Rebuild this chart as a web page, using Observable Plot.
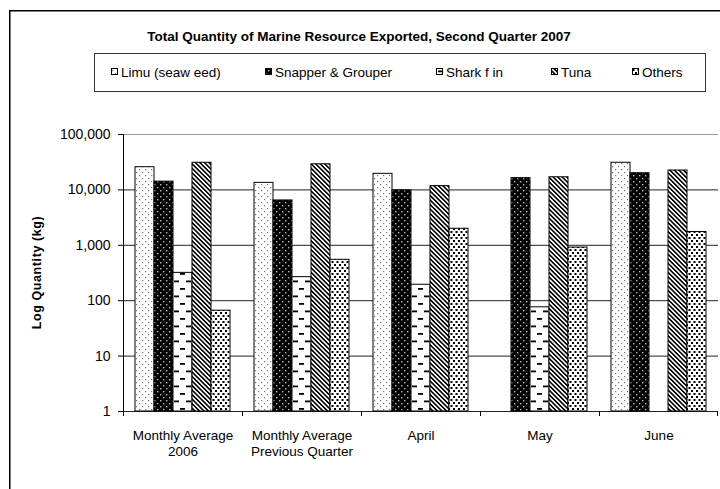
<!DOCTYPE html>
<html><head><meta charset="utf-8">
<script src="https://cdn.jsdelivr.net/npm/d3@7"></script>
<script src="https://cdn.jsdelivr.net/npm/@observablehq/plot@0.6"></script>
<style>
body{margin:0;background:#fff;}
</style></head><body><div id="chart"></div>
<script>
// ---- data ----
const categories = ["Monthly Average\n2006", "Monthly Average\nPrevious Quarter", "April", "May", "June"];
const series = ["Limu (seaw eed)", "Snapper & Grouper", "Shark f in", "Tuna", "Others"];
const limu     = [25700, 13400, 19500, null, 30900];
const snapper  = [14100, 6450, 9800, 16300, 20000];
const sharkFin = [318, 266, 194, 76, null];
const tuna     = [30900, 29000, 11700, 16900, 22400];
const others   = [66, 547, 1990, 910, 1740];
const yTicks   = [1, 10, 100, 1000, 10000, 100000];
const title = "Total Quantity of Marine Resource Exported, Second Quarter 2007";
const yLabel = "Log Quantity (kg)";

// ---- styles ----
const patternIds = ["p-limu", "p-snap", "p-shark", "p-tuna", "p-others"];
const legendX = [111, 265, 436, 551, 632];
const FONT = "'Liberation Sans', Arial, sans-serif";

const valuesBySeries = [limu, snapper, sharkFin, tuna, others];
const rows = [];
categories.forEach((c, i) => series.forEach((s, j) => {
  const v = valuesBySeries[j][i];
  if (v != null) rows.push({category: c, series: s, value: v});
}));
const fillOf = d => `url(#${patternIds[series.indexOf(d.series)]})`;

const plot = Plot.plot({
  width: 720, height: 489,
  marginTop: 134, marginLeft: 123, marginRight: 2, marginBottom: 78,
  style: {fontFamily: FONT, fontSize: "13px", background: "white", overflow: "visible", color: "#000"},
  facet: {data: rows, x: "category"},
  fx: {domain: categories, padding: 0, label: null},
  x: {domain: series, paddingInner: 0, paddingOuter: 0.63, axis: null},
  y: {type: "log", domain: [1, 1e5], label: null},
  color: {type: "identity"},
  marks: [
    Plot.ruleY(yTicks, {y: d => d, stroke: d => d === 1e5 ? "#999" : "#222", strokeWidth: 1}),
    Plot.barY(rows, {x: "series", y1: 1, y2: "value", fill: fillOf, stroke: "#000", strokeWidth: 1}),
    Plot.axisY(yTicks, {tickFormat: ",", tickSize: 5, tickPadding: 8, fontSize: 14, label: null}),
    Plot.axisFx({anchor: "bottom", tickSize: 0, tickPadding: 17, lineHeight: 1.2, fontSize: 13.5, label: null})
  ]
});

const svg = d3.select(plot);
// patterns
const defs = svg.insert("defs", ":first-child");
function pat(id, w, h, tr) {
  const p = defs.append("pattern").attr("id", id).attr("patternUnits", "userSpaceOnUse")
    .attr("width", w).attr("height", h);
  if (tr) p.attr("patternTransform", tr);
  return p;
}
let p = pat("p-limu", 6, 6);
p.append("rect").attr("width", 6).attr("height", 6).attr("fill", "#fff");
p.append("rect").attr("x", 1).attr("y", 1).attr("width", 1.2).attr("height", 1.2).attr("fill", "#777");
p.append("rect").attr("x", 4).attr("y", 4).attr("width", 1.2).attr("height", 1.2).attr("fill", "#777");
p = pat("p-snap", 6, 6);
p.append("rect").attr("width", 6).attr("height", 6).attr("fill", "#000");
p.append("rect").attr("x", 1).attr("y", 1).attr("width", 1.4).attr("height", 1.4).attr("fill", "#bbb");
p.append("rect").attr("x", 4).attr("y", 4).attr("width", 1.4).attr("height", 1.4).attr("fill", "#bbb");
p = pat("p-shark", 12, 15);
p.append("rect").attr("width", 12).attr("height", 15).attr("fill", "#fff");
p.append("rect").attr("x", 0).attr("y", 3).attr("width", 5).attr("height", 1.8).attr("fill", "#000");
p.append("rect").attr("x", 6).attr("y", 10.5).attr("width", 5).attr("height", 1.8).attr("fill", "#000");
p = pat("p-tuna", 3.2, 3.2, "rotate(-45)");
p.append("rect").attr("width", 3.2).attr("height", 3.2).attr("fill", "#fff");
p.append("rect").attr("width", 1.6).attr("height", 3.2).attr("fill", "#000");
p = pat("p-others", 5, 6);
p.append("rect").attr("width", 5).attr("height", 6).attr("fill", "#fff");
p.append("rect").attr("x", 0).attr("y", 0).attr("width", 2).attr("height", 2).attr("fill", "#000");
p.append("rect").attr("x", 2.5).attr("y", 3).attr("width", 2).attr("height", 2).attr("fill", "#000");

// axis lines and group boundary ticks using Plot's scales
const fx = plot.scale("fx"), ys = plot.scale("y");
const yb = ys.apply(1), yt = ys.apply(1e5);
const left = fx.apply(categories[0]);
const axes = svg.append("g").attr("stroke", "#000").attr("stroke-width", 1);
axes.append("line").attr("x1", left + 0.5).attr("x2", left + 0.5).attr("y1", yt).attr("y2", yb);
categories.forEach(c => {
  const x0 = Math.round(fx.apply(c)) + 0.5;
  axes.append("line").attr("x1", x0).attr("x2", x0).attr("y1", yb).attr("y2", yb + 5);
});
const xr = Math.round(fx.apply(categories[categories.length - 1]) + fx.bandwidth) - 0.5;
axes.append("line").attr("x1", xr).attr("x2", xr).attr("y1", yb).attr("y2", yb + 5);

// y label
svg.append("text").attr("transform", `translate(41,${(yb + yt) / 2}) rotate(-90)`)
  .attr("text-anchor", "middle").attr("font-family", FONT).attr("font-size", 12.5)
  .attr("font-weight", "bold").attr("letter-spacing", 0.6).attr("fill", "#000").text(yLabel);

// title
svg.append("text").attr("x", 359).attr("y", 41).attr("text-anchor", "middle")
  .attr("font-family", FONT).attr("font-size", 13.5).attr("font-weight", "bold").attr("fill", "#000").text(title);

// legend
svg.append("rect").attr("x", 94.5).attr("y", 53.5).attr("width", 611).attr("height", 38)
  .attr("fill", "none").attr("stroke", "#333").attr("stroke-width", 1);
series.forEach((s, i) => {
  svg.append("rect").attr("x", legendX[i] + 0.5).attr("y", 68.5).attr("width", 6).attr("height", 6)
    .attr("fill", `url(#${patternIds[i]})`).attr("stroke", "#000").attr("stroke-width", 1);
  svg.append("text").attr("x", legendX[i] + 10).attr("y", 77).attr("text-anchor", "start")
    .attr("font-family", FONT).attr("font-size", 13.5).attr("fill", "#000").text(s);
});

// outer frame
svg.append("rect").attr("x", 9.75).attr("y", 10.75).attr("width", 740).attr("height", 500)
  .attr("fill", "none").attr("stroke", "#000").attr("stroke-width", 1.5);

document.getElementById("chart").appendChild(plot);
</script>
</body></html>
